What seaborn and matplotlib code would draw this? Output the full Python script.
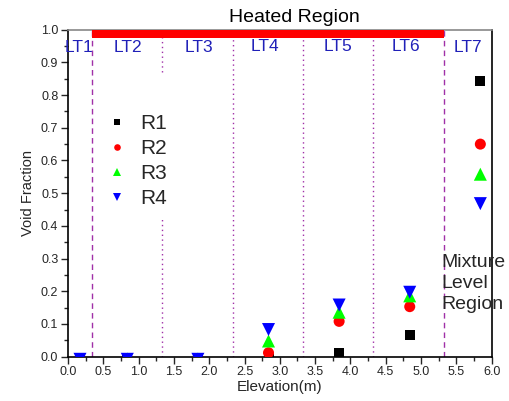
import numpy as np
import pandas as pd
import matplotlib
matplotlib.use("Agg")
import matplotlib.pyplot as plt
import seaborn as sns
from matplotlib.ticker import MultipleLocator, FormatStrFormatter

# ---- data ----
elevation = [0.17, 0.84, 1.84, 2.84, 3.84, 4.84, 5.84]
r1 = [-0.01, -0.01, -0.01, 0.0, 0.012, 0.067, 0.842]
r2 = [-0.01, -0.01, -0.01, 0.012, 0.108, 0.153, 0.650]
r3 = [-0.01, -0.007, -0.007, 0.048, 0.136, 0.186, 0.558]
r4 = [-0.008, -0.008, -0.008, 0.083, 0.158, 0.197, 0.468]
series_names = ["R1", "R2", "R3", "R4"]
lt_labels = ["LT1", "LT2", "LT3", "LT4", "LT5", "LT6", "LT7"]
lt_label_x = [0.16, 0.85, 1.855, 2.79, 3.83, 4.79, 5.67]
lt_label_y = [0.945, 0.945, 0.945, 0.95, 0.948, 0.948, 0.945]
dashed_bounds = [0.345, 5.32]
dotted_bounds = [1.325, 2.33, 3.33, 4.325]

sns.set_style("ticks")
plt.rcParams["font.family"] = ["Liberation Sans", "DejaVu Sans"]

df = pd.DataFrame({
    "Elevation": elevation * 4,
    "Void": r1 + r2 + r3 + r4,
    "Series": sum([[n] * len(elevation) for n in series_names], []),
})

fig = plt.figure(figsize=(5.10, 4.01), dpi=100)
ax = fig.add_axes([0.1333, 0.1105, 0.8307, 0.8155])

palette = {"R1": "#000000", "R2": "#ff0000", "R3": "#00ff00", "R4": "#0000ff"}
markers = {"R1": "s", "R2": "o", "R3": "^", "R4": "v"}
sizes = {"R1": 52, "R2": 63, "R3": 88, "R4": 88}

sns.scatterplot(data=df, x="Elevation", y="Void", hue="Series", style="Series",
                size="Series", palette=palette, markers=markers, sizes=sizes,
                edgecolor="none", linewidth=0, ax=ax, zorder=5)
for coll in ax.collections:
    coll.set_clip_on(True)

# region boundaries
purple = "#a030a8"
for xb in dashed_bounds:
    ax.axvline(xb, color=purple, linestyle=(0, (4, 3)), linewidth=1.0, zorder=1)
for i, xb in enumerate(dotted_bounds):
    if i == 0:
        # interrupted behind the legend block
        ax.axvline(xb, ymin=0.0, ymax=0.427, color=purple, linestyle=(0, (1, 2.5)), linewidth=1.0, zorder=1)
        ax.axvline(xb, ymin=0.872, ymax=1.0, color=purple, linestyle=(0, (1, 2.5)), linewidth=1.0, zorder=1)
    else:
        ax.axvline(xb, color=purple, linestyle=(0, (1, 2.5)), linewidth=1.0, zorder=1)

# heated region bar
ax.fill_between(dashed_bounds, 0.976, 1.0, color="#ff0000", linewidth=0, zorder=6)
ax.text((dashed_bounds[0] + dashed_bounds[1]) / 2 + 0.38, 1.038, "Heated Region",
        ha="center", va="center", fontsize=14, color="black", clip_on=False)

for lab, lx, ly in zip(lt_labels, lt_label_x, lt_label_y):
    ax.text(lx, ly, lab, ha="center", va="center", fontsize=12.5, color="#2020b8", zorder=7)

ax.text(5.29, 0.225, "Mixture\nLevel\nRegion", ha="left", va="center",
        fontsize=14, linespacing=1.3, clip_on=False, zorder=8)

ax.set_xlim(0, 6)
ax.set_ylim(0, 1.0)
ax.xaxis.set_major_locator(MultipleLocator(0.5))
ax.xaxis.set_minor_locator(MultipleLocator(0.25))
ax.yaxis.set_major_locator(MultipleLocator(0.1))
ax.yaxis.set_minor_locator(MultipleLocator(0.05))
ax.xaxis.set_major_formatter(FormatStrFormatter("%.1f"))
ax.yaxis.set_major_formatter(FormatStrFormatter("%.1f"))
ax.tick_params(which="major", direction="out", length=5, width=1.0, labelsize=9, pad=2,
               top=False, right=False)
ax.tick_params(which="minor", direction="out", length=3, width=1.0, top=False, right=False)

for side in ["left", "bottom", "right"]:
    ax.spines[side].set_color("black")
    ax.spines[side].set_linewidth(1.2)
ax.spines["top"].set_color("#888888")
ax.spines["top"].set_linewidth(1.2)

ax.set_xlabel("Elevation(m)", fontsize=11, labelpad=1)
ax.set_ylabel("Void Fraction", fontsize=10.5, labelpad=4)

leg = ax.legend(loc="upper left", bbox_to_anchor=(0.0715, 0.767), fontsize=15,
                markerscale=0.6, frameon=False, borderaxespad=0,
                handletextpad=0.6, labelspacing=0.29,
                borderpad=0.4, handlelength=1.0)

fig.savefig("out.png", dpi=100)
